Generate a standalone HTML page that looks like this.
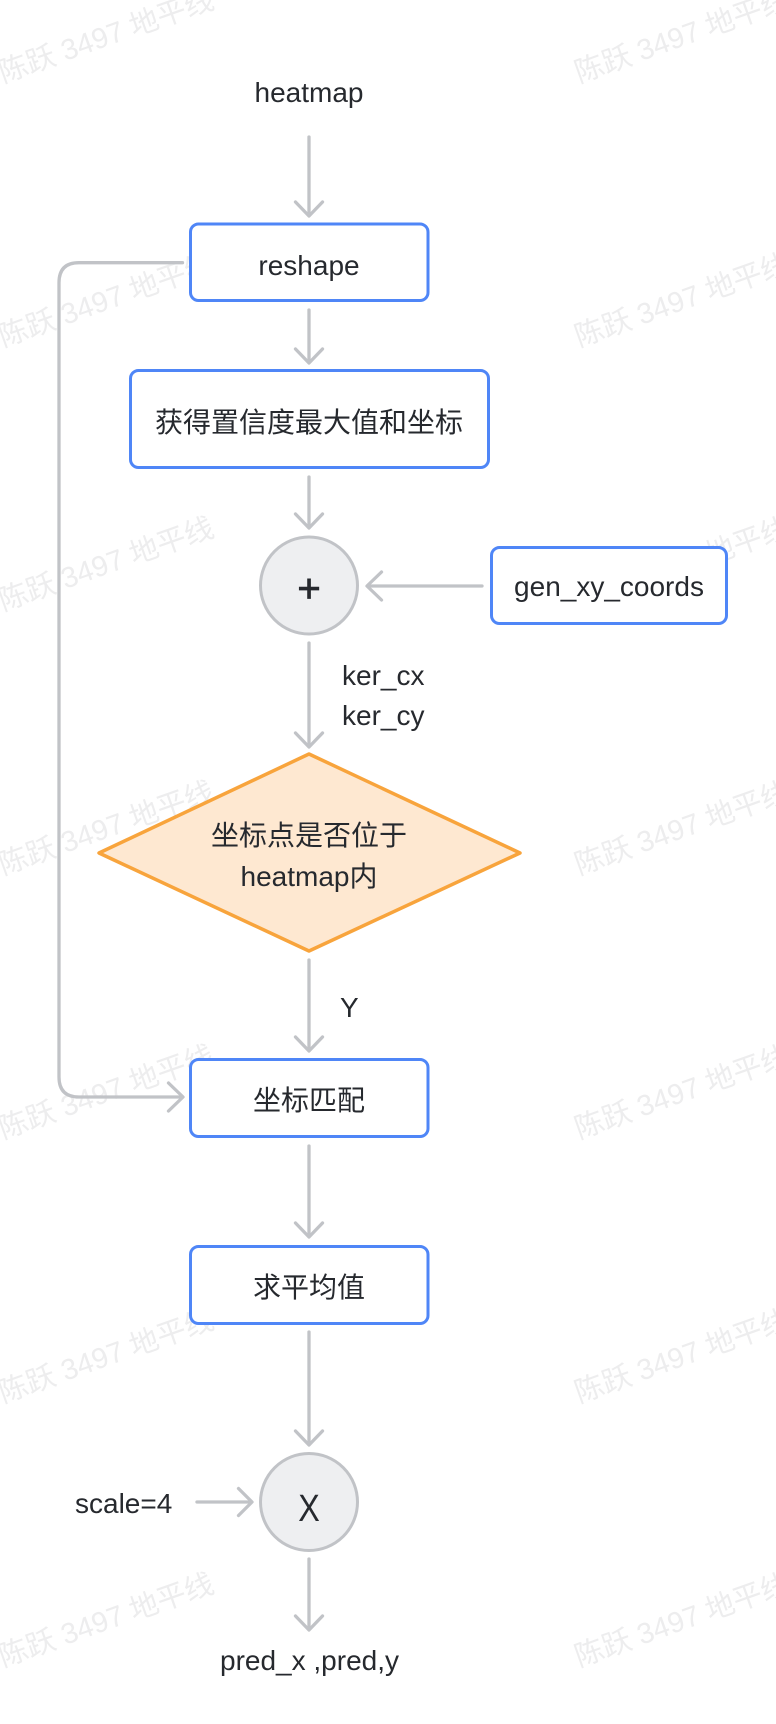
<!DOCTYPE html>
<html>
<head>
<meta charset="utf-8">
<style>
  html, body { margin: 0; padding: 0; background: #ffffff; }
  body { width: 776px; height: 1724px; overflow: hidden; }
  svg { display: block; }
  .t { font-family: "Liberation Sans", "Noto Sans CJK SC", sans-serif; fill: #26292e; font-size: 28px; }
  .wm { font-family: "Liberation Sans", "Noto Sans CJK SC", sans-serif; fill: #ededee; font-size: 29px; }
  .ln { stroke: #c1c3c7; stroke-width: 3.3; fill: none; stroke-linecap: round; stroke-linejoin: round; }
  .box { fill: #ffffff; stroke: #4f86f7; stroke-width: 3; }
</style>
</head>
<body>
<svg width="776" height="1724" viewBox="0 0 776 1724" xmlns="http://www.w3.org/2000/svg">
  <rect width="776" height="1724" fill="#ffffff"/>

  <!-- watermarks -->
  <g>
    <text class="wm" transform="translate(3,83) rotate(-19.5)">陈跃 3497 地平线</text>
    <text class="wm" transform="translate(579,83) rotate(-19.5)">陈跃 3497 地平线</text>
    <text class="wm" transform="translate(3,347) rotate(-19.5)">陈跃 3497 地平线</text>
    <text class="wm" transform="translate(579,347) rotate(-19.5)">陈跃 3497 地平线</text>
    <text class="wm" transform="translate(3,611) rotate(-19.5)">陈跃 3497 地平线</text>
    <text class="wm" transform="translate(579,611) rotate(-19.5)">陈跃 3497 地平线</text>
    <text class="wm" transform="translate(3,875) rotate(-19.5)">陈跃 3497 地平线</text>
    <text class="wm" transform="translate(579,875) rotate(-19.5)">陈跃 3497 地平线</text>
    <text class="wm" transform="translate(3,1139) rotate(-19.5)">陈跃 3497 地平线</text>
    <text class="wm" transform="translate(579,1139) rotate(-19.5)">陈跃 3497 地平线</text>
    <text class="wm" transform="translate(3,1403) rotate(-19.5)">陈跃 3497 地平线</text>
    <text class="wm" transform="translate(579,1403) rotate(-19.5)">陈跃 3497 地平线</text>
    <text class="wm" transform="translate(3,1667) rotate(-19.5)">陈跃 3497 地平线</text>
    <text class="wm" transform="translate(579,1667) rotate(-19.5)">陈跃 3497 地平线</text>
  </g>

  <!-- heatmap label -->
  <text class="t" x="309" y="102" text-anchor="middle">heatmap</text>

  <!-- arrow heatmap -> reshape -->
  <path class="ln" d="M309 137 V215"/>
  <path class="ln" d="M295.5 202 L309 216 L322.5 202"/>

  <!-- loop connector reshape -> 坐标匹配 -->
  <path class="ln" d="M182.5 262.7 H79 Q59 262.7 59 282.7 V1077 Q59 1097 79 1097 H182"/>
  <path class="ln" d="M168.5 1083 L183 1097 L168.5 1111"/>

  <!-- reshape box -->
  <rect class="box" x="190.5" y="224" width="237.5" height="76.5" rx="8"/>
  <text class="t" x="309" y="275" text-anchor="middle">reshape</text>

  <!-- arrow reshape -> 获得 -->
  <path class="ln" d="M309 310 V362"/>
  <path class="ln" d="M295.5 349 L309 363 L322.5 349"/>

  <!-- 获得置信度最大值和坐标 -->
  <rect class="box" x="130.5" y="370.5" width="358" height="97" rx="8"/>
  <text class="t" x="309" y="432" text-anchor="middle">获得置信度最大值和坐标</text>

  <!-- arrow -> plus circle -->
  <path class="ln" d="M309 477 V527"/>
  <path class="ln" d="M295.5 514 L309 528 L322.5 514"/>

  <!-- plus circle -->
  <circle cx="309" cy="585.5" r="48.5" fill="#eeeff1" stroke="#c1c3c7" stroke-width="3"/>
  <text class="t" x="309" y="602" text-anchor="middle" style="font-size:40px;stroke:#26292e;stroke-width:0.8">+</text>

  <!-- gen_xy_coords -->
  <rect class="box" x="491.5" y="547.5" width="235" height="76" rx="8"/>
  <text class="t" x="609" y="596" text-anchor="middle">gen_xy_coords</text>

  <!-- arrow gen -> circle -->
  <path class="ln" d="M482 586 H368"/>
  <path class="ln" d="M381.5 572 L367 586 L381.5 600"/>

  <!-- arrow circle -> diamond -->
  <path class="ln" d="M309 643 V746"/>
  <path class="ln" d="M295.5 733 L309 747 L322.5 733"/>
  <text class="t" x="342" y="685">ker_cx</text>
  <text class="t" x="342" y="725">ker_cy</text>

  <!-- diamond -->
  <polygon points="309,754 520,853 309,951 99,853" fill="#fee8d1" stroke="#f8a43c" stroke-width="3.5" stroke-linejoin="round"/>
  <text class="t" x="309" y="845" text-anchor="middle">坐标点是否位于</text>
  <text class="t" x="309" y="886" text-anchor="middle">heatmap内</text>

  <!-- arrow diamond -> 坐标匹配 -->
  <path class="ln" d="M309 960 V1050"/>
  <path class="ln" d="M295.5 1037 L309 1051 L322.5 1037"/>
  <text class="t" x="340" y="1017">Y</text>

  <!-- 坐标匹配 -->
  <rect class="box" x="190.5" y="1059.5" width="237.5" height="77" rx="8"/>
  <text class="t" x="309" y="1110" text-anchor="middle">坐标匹配</text>

  <!-- arrow -> 求平均值 -->
  <path class="ln" d="M309 1146 V1236"/>
  <path class="ln" d="M295.5 1223 L309 1237 L322.5 1223"/>

  <!-- 求平均值 -->
  <rect class="box" x="190.5" y="1246.5" width="237.5" height="77" rx="8"/>
  <text class="t" x="309" y="1297" text-anchor="middle">求平均值</text>

  <!-- arrow -> X circle -->
  <path class="ln" d="M309 1332 V1444"/>
  <path class="ln" d="M295.5 1431 L309 1445 L322.5 1431"/>

  <!-- X circle -->
  <circle cx="309" cy="1502" r="48.5" fill="#eeeff1" stroke="#c1c3c7" stroke-width="3"/>
  <text class="t" x="309" y="1521" text-anchor="middle" style="font-size:38px" transform="translate(309 0) scale(0.85 1) translate(-309 0)">X</text>

  <!-- scale=4 -->
  <text class="t" x="75" y="1513">scale=4</text>
  <path class="ln" d="M197 1502 H251"/>
  <path class="ln" d="M238.5 1488.5 L252 1502 L238.5 1515.5"/>

  <!-- arrow -> pred -->
  <path class="ln" d="M309 1559 V1629"/>
  <path class="ln" d="M295.5 1616 L309 1630 L322.5 1616"/>
  <text class="t" x="309.5" y="1670" text-anchor="middle">pred_x ,pred,y</text>
</svg>
</body>
</html>
